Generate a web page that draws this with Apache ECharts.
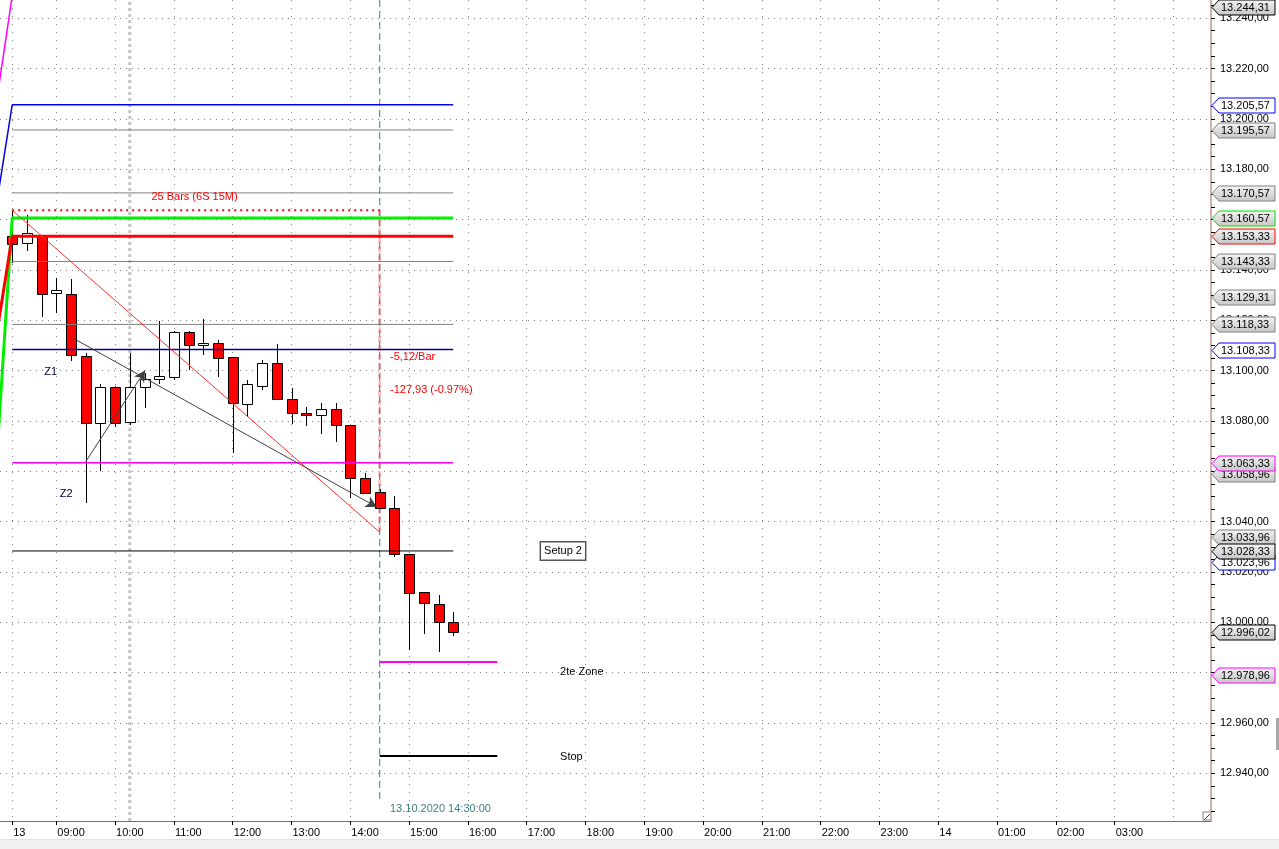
<!DOCTYPE html>
<html>
<head>
<meta charset="utf-8">
<script src="https://cdn.jsdelivr.net/npm/echarts@6/dist/echarts.min.js"></script>
<style>
html,body{margin:0;padding:0;background:#fff;}
#c{width:1279px;height:849px;}
</style>
</head>
<body>
<div id="c"></div>
<script>
// ---- Data (15-minute bars, bar 0 = 13.10.2020 08:15) ----
const barIndex = [0,1,2,3,4,5,6,7,8,9,10,11,12,13,14,15,16,17,18,19,20,21,22,23,24,25,26,27,28,29,30];
const openVals  = [13153.3,13150.6,13153.3,13130.7,13130.3,13105.9,13079.1,13093.4,13079.5,13093.4,13096.5,13097.6,13115.5,13110.1,13111.1,13105.3,13086.6,13094.0,13102.9,13088.6,13083.0,13082.2,13084.6,13078.3,13057.2,13051.6,13045.3,13027.0,13011.9,13007.2,13000.2];
const closeVals = [13150.4,13154.6,13130.3,13132.0,13106.2,13079.1,13093.6,13079.1,13093.4,13096.5,13097.9,13115.5,13110.2,13111.1,13104.9,13087.0,13094.6,13102.9,13088.6,13083.0,13082.2,13084.6,13078.3,13057.2,13051.5,13045.3,13027.0,13011.8,13007.5,13000.2,12996.02];
const lowVals   = [13142.6,13147.6,13121.4,13122.8,13103.9,13047.3,13060.2,13077.7,13078.4,13085.3,13094.7,13096.3,13100.2,13106.2,13097.6,13067.4,13081.7,13092.3,13088.4,13078.8,13078.0,13074.7,13071.8,13049.3,13051.3,13045.0,13026.1,12989.0,12995.4,12988.3,12994.7];
const highVals  = [13163.7,13161.8,13153.5,13136.7,13136.4,13106.9,13094.7,13094.0,13107.1,13098.9,13119.7,13115.7,13115.7,13120.4,13112.2,13105.5,13096.3,13104.2,13110.6,13093.0,13085.4,13087.2,13087.0,13078.5,13059.2,13053.0,13050.2,13027.3,13012.0,13010.8,13004.0];

// x-axis ticks (bar index) and labels
const xTickIdx    = [0,3,7,11,15,19,23,27,31,35,39,43,47,51,55,59,63,67,71,75];
const xTickLabels = ['13','09:00','10:00','11:00','12:00','13:00','14:00','15:00','16:00','17:00','18:00','19:00','20:00','21:00','22:00','23:00','14','01:00','02:00','03:00'];
const xGridIdx    = [0,3,7,11,15,19,23,27,31,35,39,43,47,51,55,59,63,67,71,75,79];

// y-axis labels
const yLabelVals = [12940,12960,12980,13000,13020,13040,13060,13080,13100,13120,13140,13160,13180,13200,13220,13240];
const yMinorVals = [];
for (let v = 12925; v <= 13245; v += 5) yMinorVals.push(v);

// horizontal level lines
const blueTopLevel   = 13205.57;
const greyLevels     = [13195.57, 13170.57, 13143.33, 13118.33];
const greenLevel     = 13160.57;
const redLevel       = 13153.33;
const blueLowLevel   = 13108.33;
const magentaLevel   = 13063.33;
const blackLevel     = 13028.33;
const zoneLevel      = 12984.2;
const stopLevel      = 12946.9;
const levelStart = 0, levelEnd = 30, lowLevelStart = 25, lowLevelEnd = 33;

// indicator step-ins from the previous bar
const magentaPrev = [13209.5, 13248.8];
const bluePrev    = [13168.5, 13205.57];
const greenPrev   = [13070.0, 13160.57];
const redPrev     = [13116.7, 13153.33];

// measurement (25 bars) and trend arrows
const measureStart = [0, 13163.7];
const measureEnd   = [25, 13035.8];
const arrow1 = [[4, 13113.3], [24.8, 13045.8]];
const arrow2 = [[5, 13063.8], [9.04, 13100.0]];
const sessionMarkIdx = 8;
const cursorIdx = 25;
const cursorBottom = 12929.4;

// right-axis price tags
const tagValues = [13244.31,13205.57,13195.57,13170.57,13160.57,13153.33,13143.33,13129.31,13118.33,13108.33,13063.33,13058.96,13033.96,13028.33,13023.96,12996.02,12978.96];
const tagBorder = ['#000000','#0000ff','#808080','#808080','#00e000','#ff0000','#808080','#808080','#808080','#0000ff','#ff00ff','#808080','#808080','#000000','#0000ff','#000000','#ff00ff'];
const tagLayer  = [4,2,1,1,3,3,1,1,1,2,3,1,1,4,2,4,3];

// text notes
const noteText = ['Z1','Z2','25 Bars (6S 15M)','-5,12/Bar','-127,93 (-0.97%)','2te Zone','Stop','13.10.2020 14:30:00'];
const noteX    = [2.62, 3.67, 12.4, 25.7, 25.7, 37.27, 37.27, 25.7];
const noteY    = [13099.5, 13051.0, 13169.0, 13105.4, 13092.3, 12980.3, 12946.5, 12925.8];
const noteColor= ['#000040','#000040','#ff0000','#ff0000','#ff0000','#000000','#000000','#408080'];
const noteAlign= ['center','center','center','left','left','left','left','left'];
const setupText = 'Setup 2';
const setupPos  = [37.47, 13028.4];

// ---- Chart ----
const X_MIN = -0.830, X_MAX = 81.55;
const Y_MIN = 12921.06, Y_MAX = 13247.2;
const FONT = '"Liberation Sans", Arial, sans-serif';

function fmt(v) {
  const s = v.toFixed(2).split('.');
  return s[0].replace(/\B(?=(\d{3})+(?!\d))/g, '.') + ',' + s[1];
}

const chart = echarts.init(document.getElementById('c'), null, {renderer: 'canvas'});

function line(data, color, width, type, z) {
  return {
    type: 'line', data: data, xAxisIndex: 0, yAxisIndex: 0,
    symbol: 'none', silent: true, animation: false, z: z || 3,
    lineStyle: {color: color, width: width, type: type || 'solid'},
    emphasis: {disabled: true}
  };
}
function flat(v, a, b) { return [[a, v], [b, v]]; }

const series = [];
// session marker & cursor
series.push(line([[sessionMarkIdx, Y_MIN], [sessionMarkIdx, Y_MAX]], '#c4c4c4', 3, [3, 3], 1));
series.push(line([[cursorIdx, measureStart[1]], [cursorIdx, measureEnd[1]]], '#ffbcbc', 3, [6, 3], 1));
series.push(line([[cursorIdx, Y_MAX], [cursorIdx, cursorBottom]], '#3f7f7f', 1, [7, 4], 1));

// candles
series.push({
  type: 'custom', name: 'candles', animation: false, silent: true, z: 2,
  data: barIndex.map((b, k) => [b, openVals[k], closeVals[k], lowVals[k], highVals[k]]),
  encode: {x: 0, y: [1, 2, 3, 4]},
  renderItem: function (params, api) {
    const i = api.value(0), o = api.value(1), c = api.value(2), l = api.value(3), h = api.value(4);
    const pO = api.coord([i, o]), pC = api.coord([i, c]), pL = api.coord([i, l]), pH = api.coord([i, h]);
    const x = Math.round(pO[0]);
    const top = Math.round(Math.min(pO[1], pC[1]));
    const bot = Math.round(Math.max(pO[1], pC[1]));
    return {type: 'group', children: [
      {type: 'line', shape: {x1: x + 0.5, y1: Math.round(pH[1]), x2: x + 0.5, y2: Math.round(pL[1])},
       style: {stroke: '#000', lineWidth: 1}},
      {type: 'rect', shape: {x: x - 5 + 0.5, y: top + 0.5, width: 10, height: Math.max(bot - top, 1)},
       style: {fill: c >= o ? '#ffffff' : '#ff0000', stroke: '#000', lineWidth: 1}}
    ]};
  }
});

// level lines
greyLevels.forEach(v => series.push(line(flat(v, levelStart, levelEnd), '#808080', 1)));
series.push(line([[-1, magentaPrev[0]], [0, magentaPrev[1]]], '#ff00ff', 1.5));
series.push(line([[-1, bluePrev[0]], [0, bluePrev[1]], [levelEnd, blueTopLevel]], '#0000e0', 1.5));
series.push(line([[-1, greenPrev[0]], [0, greenPrev[1]], [levelEnd, greenLevel]], '#00f000', 3));
series.push(line([[-1, redPrev[0]], [0, redPrev[1]], [levelEnd, redLevel]], '#ff0000', 3));
series.push(line(flat(blueLowLevel, levelStart, levelEnd), '#0000a0', 1.5));
series.push(line(flat(magentaLevel, levelStart, levelEnd), '#ff00ff', 1.5));
series.push(line(flat(blackLevel, levelStart, levelEnd), '#000000', 1));
series.push(line(flat(zoneLevel, lowLevelStart, lowLevelEnd), '#ff00ff', 2));
series.push(line(flat(stopLevel, lowLevelStart, lowLevelEnd), '#000000', 2));
// measurement
series.push(line(flat(measureStart[1], measureStart[0], measureEnd[0]), '#ff0000', 2, [2, 4]));
series.push(line([measureStart, measureEnd], '#ff3030', 1));

// arrows
series.push({
  type: 'line', data: [], silent: true, animation: false, z: 4,
  markLine: {
    silent: true, animation: false,
    symbol: ['none', 'arrow'], symbolSize: [9, 11],
    label: {show: false}, emphasis: {disabled: true},
    lineStyle: {color: '#404040', width: 1, type: 'solid'},
    data: [
      [{coord: arrow1[0]}, {coord: arrow1[1]}],
      [{coord: arrow2[0]}, {coord: arrow2[1]}]
    ]
  }
});

// notes
series.push({
  type: 'custom', animation: false, silent: true, z: 6,
  data: noteText.map((t, k) => [noteX[k], noteY[k]]),
  renderItem: function (params, api) {
    const k = params.dataIndex;
    const p = api.coord([api.value(0), api.value(1)]);
    return {type: 'text', x: p[0], y: p[1], style: {
      text: noteText[k], fill: noteColor[k], font: '11px ' + FONT,
      align: noteAlign[k], verticalAlign: 'middle'}};
  }
});
series.push({
  type: 'custom', animation: false, silent: true, z: 6,
  data: [setupPos],
  renderItem: function (params, api) {
    const p = api.coord([api.value(0), api.value(1)]);
    return {type: 'text', x: Math.round(p[0]), y: Math.round(p[1]), style: {
      text: setupText, fill: '#000', font: '11px ' + FONT,
      align: 'center', verticalAlign: 'middle',
      backgroundColor: '#ffffff', borderColor: '#555555', borderWidth: 1.5,
      padding: [3, 3, 3, 3]}};
  }
});

// price tags on the right axis
series.push({
  type: 'custom', animation: false, silent: true, z: 10, clip: false,
  data: tagValues.map(v => [0, v]),
  renderItem: function (params, api) {
    const k = params.dataIndex;
    const v = api.value(1);
    const p = api.coord([0, v]);
    const xr = params.coordSys.x + params.coordSys.width;
    const y = Math.round(p[1]) + 0.5;
    const white = tagBorder[k] === '#0000ff';
    const fill = white ? '#ffffff' : {type: 'linear', x: 0, y: 0, x2: 0, y2: 1,
      colorStops: [{offset: 0, color: '#f4f4f4'}, {offset: 1, color: '#c6c6c6'}]};
    return {type: 'group', children: [
      {type: 'polygon', z2: tagLayer[k] * 10,
       shape: {points: [[xr + 1, y], [xr + 8, y - 7.5], [xr + 64, y - 7.5], [xr + 64, y + 7.5], [xr + 8, y + 7.5]]},
       style: {fill: fill, stroke: tagBorder[k], lineWidth: 1}},
      {type: 'text', z2: tagLayer[k] * 10 + 1, x: xr + 10, y: y,
       style: {text: fmt(v), fill: '#000', font: '11px ' + FONT, align: 'left', verticalAlign: 'middle'}}
    ]};
  }
});

chart.setOption({
  animation: false,
  backgroundColor: '#ffffff',
  grid: {left: 0, right: 68, top: 0, bottom: 28, containLabel: false},
  xAxis: [
    {
      type: 'value', min: X_MIN, max: X_MAX, position: 'bottom',
      axisLine: {show: true, onZero: false, lineStyle: {color: '#707070', width: 1}},
      axisTick: {show: true, length: 4, inside: false, customValues: xTickIdx, lineStyle: {color: '#000'}},
      axisLabel: {
        show: true, customValues: xTickIdx, margin: 6, align: 'left', padding: [0, 0, 0, 1],
        color: '#000', fontFamily: FONT, fontSize: 11,
        formatter: function (v) {
          const k = xTickIdx.indexOf(Math.round(v));
          return k >= 0 ? xTickLabels[k] : '';
        }
      },
      splitLine: {show: false}
    },
    {
      type: 'value', min: X_MIN, max: X_MAX, position: 'top',
      axisLine: {show: false}, axisLabel: {show: false},
      axisTick: {show: false, customValues: xGridIdx},
      splitLine: {show: true, lineStyle: {color: '#808080', width: 1, type: [1, 7]}}
    }
  ],
  yAxis: [
    {
      type: 'value', min: Y_MIN, max: Y_MAX, position: 'right',
      axisLine: {show: true, onZero: false, lineStyle: {color: '#cfb0b0', width: 2}},
      axisTick: {show: true, length: 4, inside: false, customValues: yMinorVals, lineStyle: {color: '#000'}},
      axisLabel: {
        show: true, customValues: yLabelVals, margin: 9, color: '#000',
        fontFamily: FONT, fontSize: 11, formatter: v => fmt(v)
      },
      splitLine: {show: false}
    },
    {
      type: 'value', min: Y_MIN, max: Y_MAX, position: 'left',
      axisLine: {show: false}, axisLabel: {show: false},
      axisTick: {show: false, customValues: yLabelVals},
      splitLine: {show: true, lineStyle: {color: '#808080', width: 1, type: [1, 5]}}
    }
  ],
  graphic: [
    {type: 'rect', left: 0, bottom: 0, shape: {width: 1279, height: 9}, style: {fill: '#f0f0f0'}, z: 100},
    {type: 'rect', left: 0, bottom: 9, shape: {width: 1279, height: 1}, style: {fill: '#e2e2e2'}, z: 100},
    {type: 'rect', right: 0, top: 718, shape: {width: 3, height: 32}, style: {fill: '#a8a8a8'}, z: 100},
    {type: 'group', left: 1202, top: 811, z: 100, children: [
      {type: 'rect', shape: {x: 0.5, y: 0.5, width: 8, height: 8}, style: {fill: '#ffffff', stroke: '#808080', lineWidth: 1}},
      {type: 'line', shape: {x1: 2, y1: 8, x2: 8, y2: 2}, style: {stroke: '#404040', lineWidth: 1}}
    ]}
  ],
  series: series
});
</script>
</body>
</html>
